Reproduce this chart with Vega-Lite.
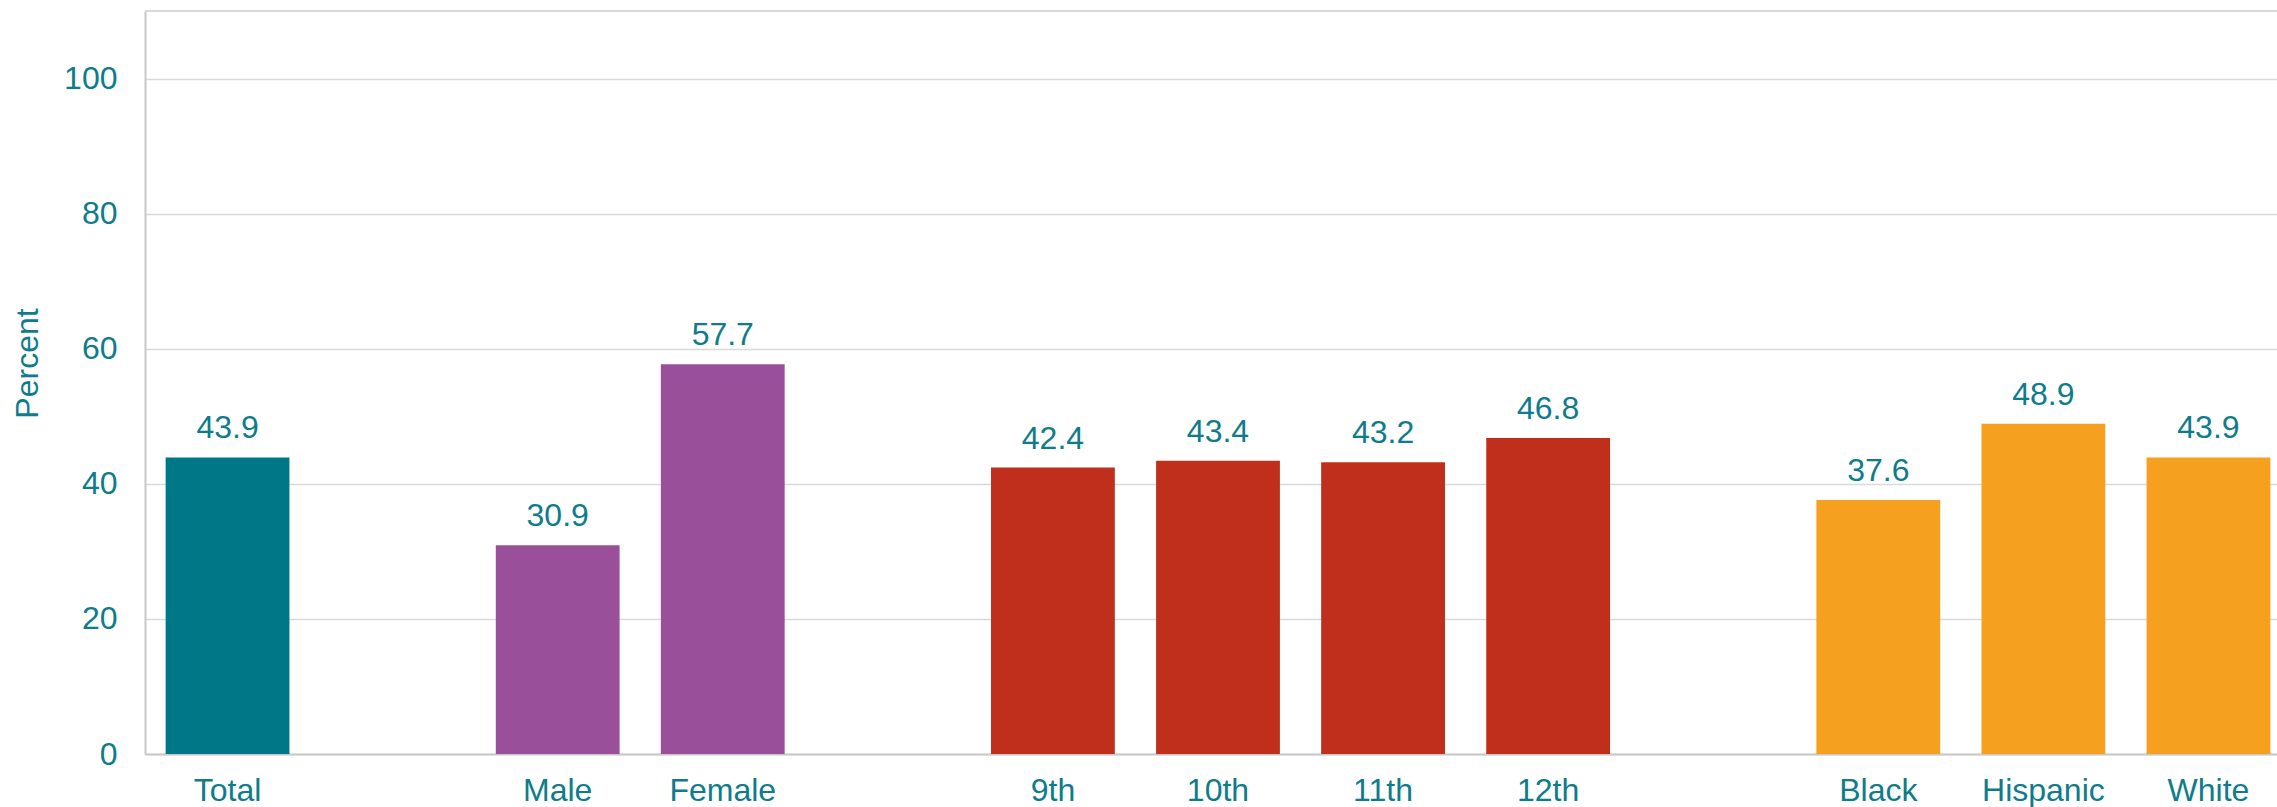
{
  "$schema": "https://vega.github.io/schema/vega-lite/v6.json",
  "autosize": {"type": "none"},
  "padding": {"left": 145, "top": 11, "right": 0, "bottom": 53},
  "width": 2132,
  "height": 743,
  "background": "white",
  "config": {
    "view": {"stroke": null},
    "font": "Liberation Sans"
  },
  "data": {
    "values": [
      {"cat": "Total", "value": 43.9, "group": "Total"},
      {"cat": "Male", "value": 30.9, "group": "Sex"},
      {"cat": "Female", "value": 57.7, "group": "Sex"},
      {"cat": "9th", "value": 42.4, "group": "Grade"},
      {"cat": "10th", "value": 43.4, "group": "Grade"},
      {"cat": "11th", "value": 43.2, "group": "Grade"},
      {"cat": "12th", "value": 46.8, "group": "Grade"},
      {"cat": "Black", "value": 37.6, "group": "Race"},
      {"cat": "Hispanic", "value": 48.9, "group": "Race"},
      {"cat": "White", "value": 43.9, "group": "Race"}
    ]
  },
  "encoding": {
    "x": {
      "field": "cat",
      "type": "nominal",
      "scale": {
        "domain": ["Total", " ", "Male", "Female", "  ", "9th", "10th", "11th", "12th", "   ", "Black", "Hispanic", "White"],
        "range": [0, 2146],
        "paddingInner": 0.25,
        "paddingOuter": 0.125
      },
      "axis": {
        "title": null,
        "labelAngle": 0,
        "labelFontSize": 32,
        "labelColor": "#0E7C8B",
        "labelPadding": 21,
        "ticks": false,
        "domainColor": "#C8C8C8",
        "domainWidth": 2,
        "grid": false
      }
    },
    "y": {
      "field": "value",
      "type": "quantitative",
      "scale": {"domain": [0, 110], "nice": false},
      "axis": {
        "values": [0, 20, 40, 60, 80, 100],
        "title": "Percent",
        "titleFontSize": 32,
        "titleFontWeight": "normal",
        "titleColor": "#0E7C8B",
        "titleX": -108,
        "titleY": 352,
        "titleBaseline": "alphabetic",
        "labelFontSize": 32,
        "labelColor": "#0E7C8B",
        "labelPadding": 28,
        "ticks": false,
        "domainColor": "#C8C8C8",
        "domainWidth": 2,
        "gridColor": "#D9D9D9",
        "gridWidth": 1.5
      }
    }
  },
  "layer": [
    {
      "mark": {"type": "rule", "color": "#D9D9D9", "strokeWidth": 1.5},
      "encoding": {"y": {"datum": 110}, "x": null}
    },
    {
      "mark": {"type": "bar"},
      "encoding": {
        "color": {
          "field": "group",
          "type": "nominal",
          "scale": {"domain": ["Total", "Sex", "Grade", "Race"], "range": ["#007787", "#9A4F9B", "#BF2F1B", "#F5A01E"]},
          "legend": null
        }
      }
    },
    {
      "mark": {"type": "text", "baseline": "alphabetic", "dy": -19, "fontSize": 32, "color": "#0E7C8B"},
      "encoding": {
        "text": {"field": "value", "type": "quantitative", "format": ".1f"}
      }
    }
  ]
}
